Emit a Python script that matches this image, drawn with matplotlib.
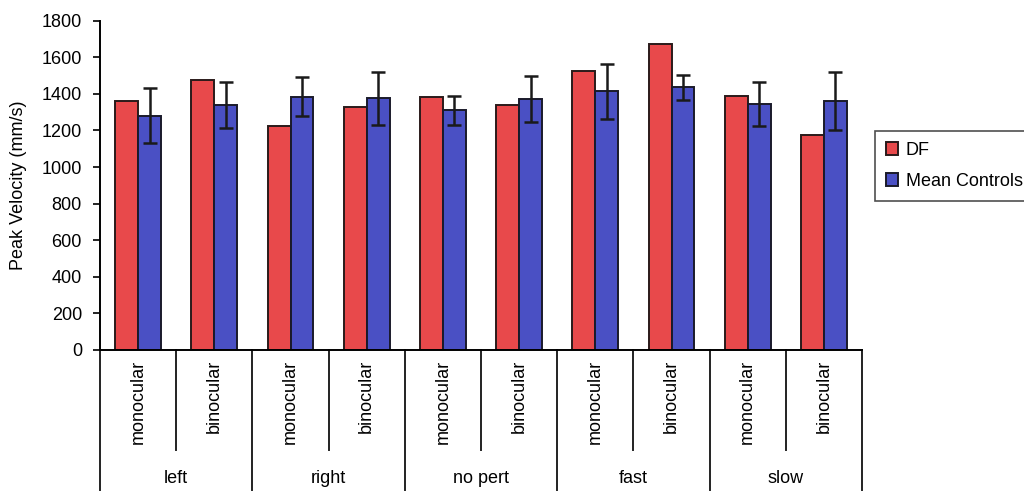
import matplotlib
matplotlib.use("Agg")
import matplotlib.pyplot as plt
import matplotlib.transforms as mtransforms
import numpy as np

plt.rcParams['font.family'] = ['Liberation Sans', 'DejaVu Sans']

# Conditions (outer groups) and viewing mode (inner categories)
groups = ["left", "right", "no pert", "fast", "slow"]
modes = ["monocular", "binocular"]

# Peak velocity (mm/s)
df_values = [1360, 1475, 1225, 1330, 1380, 1340, 1525, 1670, 1390, 1175]
control_values = [1280, 1340, 1385, 1375, 1310, 1370, 1415, 1435, 1345, 1360]
control_err = [150, 125, 105, 145, 80, 125, 150, 70, 120, 160]

series_labels = ["DF", "Mean Controls"]
red = "#e8494b"
blue = "#4a50c4"
fs = 13

fig = plt.figure(figsize=(10.24, 4.91), dpi=100)
ax = fig.add_axes([100 / 1024, 1 - 350 / 491, 762 / 1024, 329.4 / 491])

n = len(df_values)
x = np.arange(n)
w = 0.30

ax.bar(x - w / 2, df_values, w, color=red, edgecolor="#2a1a1a", linewidth=1.4,
       label=series_labels[0], zorder=2)
ax.bar(x + w / 2, control_values, w, color=blue, edgecolor="#1a1a2a", linewidth=1.4,
       label=series_labels[1], zorder=2)
ax.errorbar(x + w / 2, control_values, yerr=control_err, fmt="none", ecolor="#1a1a1a",
            elinewidth=1.8, capsize=5, capthick=1.8, zorder=3)

ax.set_xlim(-0.5, n - 0.5)
ax.set_ylim(0, 1800)
ax.set_yticks(np.arange(0, 1801, 200))
ax.tick_params(axis="y", labelsize=fs, length=5, width=1.2, direction="out", pad=8)
ax.set_xticks([])
for side in ("top", "right"):
    ax.spines[side].set_visible(False)
ax.spines["left"].set_linewidth(1.4)
ax.spines["bottom"].set_linewidth(1.4)
ax.set_ylabel("Peak Velocity (mm/s)", fontsize=fs)
ax.yaxis.set_label_coords(-0.096, 0.5)

# Two-level category axis below the plot
trans = mtransforms.blended_transform_factory(ax.transData, ax.transAxes)
inner_depth = -0.305
outer_depth = -0.425
for i in range(n + 1):
    xb = i - 0.5
    depth = outer_depth if i % 2 == 0 else inner_depth
    ax.plot([xb, xb], [0, depth], transform=trans, color="#222222", lw=1.4,
            clip_on=False)

for i in range(n):
    ax.text(i, -0.03, modes[i % 2], transform=trans, rotation=90, ha="center",
            va="top", fontsize=fs)
for g, name in enumerate(groups):
    ax.text(2 * g + 0.5, -0.39, name, transform=trans, ha="center", va="center",
            fontsize=fs)

leg = fig.legend(loc="upper left", bbox_to_anchor=(875 / 1024, 1 - 131 / 491),
                 fontsize=fs, frameon=True, fancybox=False, edgecolor="#222222",
                 handlelength=0.7, handleheight=0.7, handletextpad=0.4,
                 borderpad=0.6, labelspacing=0.78, borderaxespad=0)
leg.get_frame().set_linewidth(1.2)

fig.savefig("out.png", dpi=100)
